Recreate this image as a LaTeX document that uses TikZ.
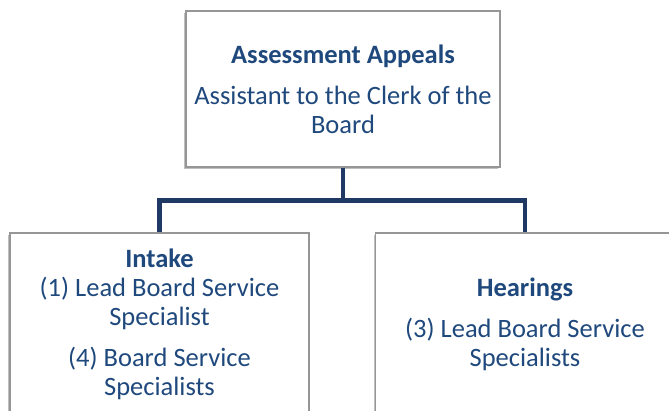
\documentclass[tikz,border=0pt]{standalone}
\usepackage{fontspec}
\setmainfont{Carlito}
\usetikzlibrary{shadows}
\definecolor{textblue}{RGB}{31,73,125}
\definecolor{lineblue}{RGB}{31,56,100}
\definecolor{boxgray}{RGB}{150,150,150}
\begin{document}
\begin{tikzpicture}[
    x=1pt, y=-1pt,
    every node/.style={align=center, text=textblue, font=\fontsize{26.5}{29}\selectfont},
    unit box/.style={draw=boxgray, line width=1.5pt, fill=white, inner sep=0pt,
        drop shadow={shadow xshift=-2pt, shadow yshift=-2pt, fill=black, opacity=0.25}},
    link/.style={draw=lineblue, line width=4.5pt},
    ]
\clip (0,0) rectangle (669,411);
\node[unit box, minimum width=314pt, minimum height=156pt] (appeals) at (343,89)
    {\textbf{Assessment Appeals}\\[12pt]Assistant to the Clerk of the\\Board};
\node[unit box, minimum width=299pt, minimum height=182pt] (intake) at (159.5,324)
    {\textbf{Intake}\\(1) Lead Board Service\\Specialist\\[12pt](4) Board Service\\Specialists};
\node[unit box, minimum width=299pt, minimum height=182pt] (hearings) at (525,324)
    {\textbf{Hearings}\\[12pt](3) Lead Board Service\\Specialists};
\draw[link] (appeals.south) -- ++(0,33) -| (intake.north);
\draw[link] (appeals.south) -- ++(0,33) -| (hearings.north);
\end{tikzpicture}
\end{document}
